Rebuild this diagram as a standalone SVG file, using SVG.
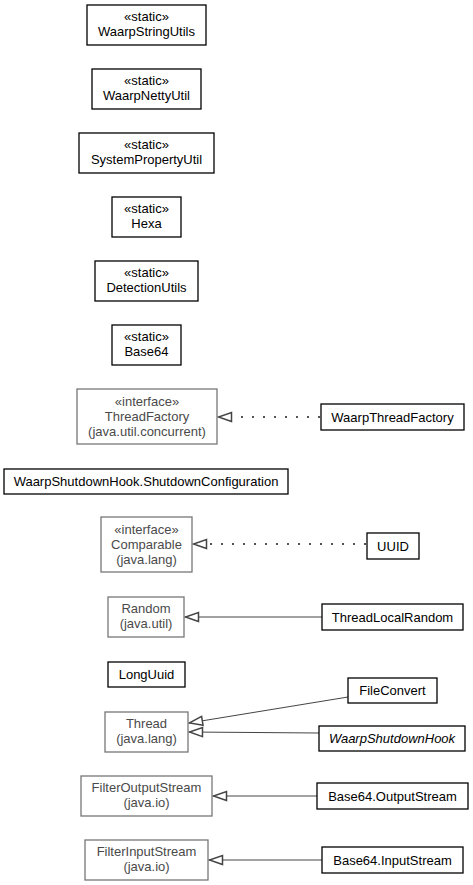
<svg xmlns="http://www.w3.org/2000/svg" width="473" height="885" viewBox="0 0 473 885">
<defs>
<style>
text{font-family:"Liberation Sans",Arial,sans-serif;font-size:13px;text-anchor:middle}
.b rect{fill:#fff;stroke:#000;stroke-width:1.3}
.b text{fill:#000}
.g rect{fill:#fff;stroke:#777;stroke-width:1.3}
.g text{fill:#4a4a4a}
.e{fill:none;stroke:#444;stroke-width:1}
.d{fill:none;stroke:#555;stroke-width:2;stroke-dasharray:2,9}
</style>
<marker id="tri" viewBox="0 0 16 12" refX="15" refY="6" markerWidth="16" markerHeight="12" markerUnits="userSpaceOnUse" orient="auto">
<path d="M1.5,1.5 L14.5,6 L1.5,10.5 Z" fill="#fff" stroke="#444" stroke-width="1.5"/>
</marker>
</defs>
<g id="connectors">
<path class="d" d="M320,417 L218,417" marker-end="url(#tri)"/>
<path class="d" d="M366,544 L193,544" marker-end="url(#tri)"/>
<path class="e" d="M322,617 L185,617" marker-end="url(#tri)"/>
<path class="e" d="M348,697 L189,723" marker-end="url(#tri)"/>
<path class="e" d="M319,733 L189,732" marker-end="url(#tri)"/>
<path class="e" d="M317,796 L213,796" marker-end="url(#tri)"/>
<path class="e" d="M322,860 L209,860" marker-end="url(#tri)"/>
</g>
<g id="WaarpStringUtils" class="b"><rect x="87" y="5" width="119" height="40"/><text x="146.5" y="21">«static»</text><text x="146.5" y="36">WaarpStringUtils</text></g>
<g id="WaarpNettyUtil" class="b"><rect x="92" y="69" width="109" height="40"/><text x="146.5" y="85">«static»</text><text x="146.5" y="100">WaarpNettyUtil</text></g>
<g id="SystemPropertyUtil" class="b"><rect x="79" y="133" width="135" height="40"/><text x="146.5" y="149">«static»</text><text x="146.5" y="164">SystemPropertyUtil</text></g>
<g id="Hexa" class="b"><rect x="112" y="197" width="69" height="40"/><text x="146.5" y="213">«static»</text><text x="146.5" y="228">Hexa</text></g>
<g id="DetectionUtils" class="b"><rect x="95" y="261" width="103" height="40"/><text x="146.5" y="277">«static»</text><text x="146.5" y="292">DetectionUtils</text></g>
<g id="Base64" class="b"><rect x="112" y="325" width="69" height="40"/><text x="146.5" y="341">«static»</text><text x="146.5" y="356">Base64</text></g>
<g id="ThreadFactory" class="g"><rect x="77" y="389" width="140" height="55"/><text x="147" y="406">«interface»</text><text x="147" y="421">ThreadFactory</text><text x="147" y="436">(java.util.concurrent)</text></g>
<g id="WaarpThreadFactory" class="b"><rect x="321" y="404" width="143" height="26"/><text x="392.5" y="421.5">WaarpThreadFactory</text></g>
<g id="ShutdownConfiguration" class="b"><rect x="4" y="469" width="284" height="25"/><text x="146" y="486">WaarpShutdownHook.ShutdownConfiguration</text></g>
<g id="Comparable" class="g"><rect x="101" y="517" width="91" height="55"/><text x="146.5" y="534">«interface»</text><text x="146.5" y="549">Comparable</text><text x="146.5" y="564">(java.lang)</text></g>
<g id="UUID" class="b"><rect x="367" y="533" width="52" height="26"/><text x="393" y="550.5">UUID</text></g>
<g id="Random" class="g"><rect x="108" y="597" width="76" height="40"/><text x="146" y="613">Random</text><text x="146" y="628">(java.util)</text></g>
<g id="ThreadLocalRandom" class="b"><rect x="322" y="604" width="141" height="26"/><text x="392.5" y="621.5">ThreadLocalRandom</text></g>
<g id="LongUuid" class="b"><rect x="108" y="662" width="77" height="25"/><text x="146.5" y="679">LongUuid</text></g>
<g id="FileConvert" class="b"><rect x="348" y="678" width="89" height="25"/><text x="392.5" y="695">FileConvert</text></g>
<g id="Thread" class="g"><rect x="105" y="712" width="83" height="40"/><text x="146.5" y="728">Thread</text><text x="146.5" y="743">(java.lang)</text></g>
<g id="WaarpShutdownHook" class="b"><rect x="319" y="726" width="146" height="25"/><text x="392" y="743" font-style="italic">WaarpShutdownHook</text></g>
<g id="FilterOutputStream" class="g"><rect x="81" y="776" width="131" height="40"/><text x="146.5" y="792">FilterOutputStream</text><text x="146.5" y="807">(java.io)</text></g>
<g id="Base64OutputStream" class="b"><rect x="317" y="783" width="151" height="26"/><text x="392.5" y="800.5">Base64.OutputStream</text></g>
<g id="FilterInputStream" class="g"><rect x="85" y="840" width="123" height="40"/><text x="146.5" y="856">FilterInputStream</text><text x="146.5" y="871">(java.io)</text></g>
<g id="Base64InputStream" class="b"><rect x="322" y="847" width="141" height="26"/><text x="392.5" y="864.5">Base64.InputStream</text></g>
</svg>
